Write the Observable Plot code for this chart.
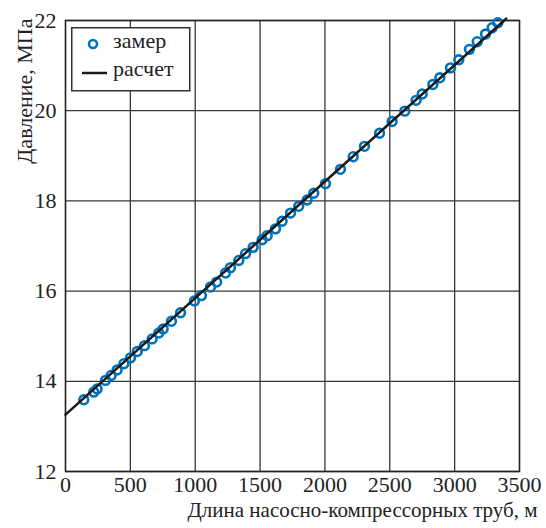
<!DOCTYPE html>
<html>
<head>
<meta charset="utf-8">
<script src="https://cdn.jsdelivr.net/npm/d3@7"></script>
<script src="https://cdn.jsdelivr.net/npm/@observablehq/plot@0.6"></script>
<style>
  body { margin: 0; background: #fff; }
  #wrap { position: relative; width: 546px; height: 528px; font-family: "Liberation Serif", "Times New Roman", serif; }
  #legend { position: absolute; left: 71px; top: 27px; }
</style>
</head>
<body>
<div id="wrap"></div>
<script>
const xTicks = [0, 500, 1000, 1500, 2000, 2500, 3000, 3500];
const yTicks = [12, 14, 16, 18, 20, 22];

// замер (measured)
const zamerX = [141, 218, 244, 308, 352, 398, 450, 501, 553, 609, 668, 719, 753, 817, 887, 994, 1048, 1118, 1165,
  1234, 1272, 1336, 1388, 1447, 1516, 1555, 1619, 1670, 1735, 1798, 1863, 1914, 2004, 2120, 2218,
  2305, 2421, 2518, 2616, 2703, 2750, 2832, 2886, 2968, 3032, 3114, 3174, 3238, 3289, 3333];
const zamerY = [13.59, 13.76, 13.83, 14.02, 14.13, 14.25, 14.39, 14.52, 14.66, 14.79, 14.94, 15.07, 15.16, 15.33, 15.52, 15.78, 15.90, 16.09, 16.20,
  16.40, 16.52, 16.68, 16.83, 16.97, 17.14, 17.23, 17.38, 17.55, 17.73, 17.88, 18.02, 18.17, 18.38, 18.70, 18.98,
  19.21, 19.50, 19.76, 19.99, 20.23, 20.37, 20.58, 20.73, 20.95, 21.13, 21.36, 21.53, 21.70, 21.84, 21.95];

// расчет (calculated)
const calcX = [0, 3397];
const calcY = [13.26, 22.04];

const xLabel = "Длина насосно-компрессорных труб, м";
const yLabel = "Давление, МПа";
const legendLabels = ["замер", "расчет"];

const zamer = zamerX.map((x, i) => ({x, y: zamerY[i]}));
const calc = calcX.map((x, i) => ({x, y: calcY[i]}));

const serif = "'Liberation Serif', 'Times New Roman', serif";

const chart = Plot.plot({
  width: 546,
  height: 528,
  marginLeft: 65,
  marginRight: 27,
  marginTop: 20,
  marginBottom: 57,
  style: { fontFamily: serif, fontSize: "22px", color: "#222", background: "#fff" },
  x: { domain: [0, 3500], label: null },
  y: { domain: [12, 22], label: null },
  marks: [
    Plot.gridX(xTicks, { stroke: "#383838", strokeOpacity: 1, strokeWidth: 1.3 }),
    Plot.gridY(yTicks, { stroke: "#383838", strokeOpacity: 1, strokeWidth: 1.3 }),
    Plot.frame({ stroke: "#222", strokeWidth: 1.4 }),
    Plot.axisX(xTicks, { tickSize: 0, tickPadding: 5, fontSize: 22, tickFormat: d => String(d) }),
    Plot.axisY(yTicks, { tickSize: 0, tickPadding: 9, fontSize: 22, tickFormat: d => String(d) }),
    Plot.dot(zamer, { x: "x", y: "y", r: 4.4, stroke: "#0072BD", strokeWidth: 2.6, fill: "none" }),
    Plot.line(calc, { x: "x", y: "y", stroke: "#1a1a1a", strokeWidth: 2.5 }),
    Plot.text([yLabel], { frameAnchor: "top-left", dx: -49, dy: -2, rotate: -90, textAnchor: "end", fontSize: 22, fill: "#222" }),
    Plot.text([xLabel], { frameAnchor: "bottom-right", dx: 18, dy: 45, textAnchor: "end", fontSize: 21, fill: "#222" })
  ]
});

const wrap = document.getElementById("wrap");
wrap.appendChild(chart);

// legend box (real text)
const lg = d3.select(wrap).append("svg")
  .attr("id", "legend").attr("width", 120).attr("height", 65)
  .style("font-family", serif).style("font-size", "22px");
lg.append("rect").attr("x", 0.75).attr("y", 0.75).attr("width", 118).attr("height", 63)
  .attr("fill", "#fff").attr("stroke", "#333").attr("stroke-width", 1.5);
lg.append("circle").attr("cx", 22).attr("cy", 17).attr("r", 4).attr("fill", "none")
  .attr("stroke", "#0072BD").attr("stroke-width", 2.6);
lg.append("line").attr("x1", 11).attr("x2", 36).attr("y1", 46).attr("y2", 46)
  .attr("stroke", "#1a1a1a").attr("stroke-width", 2.5);
lg.selectAll("text.l").data(legendLabels).join("text")
  .attr("class", "l").attr("x", 42).attr("y", (d, i) => 21 + i * 28).attr("fill", "#222").text(d => d);
</script>
</body>
</html>
